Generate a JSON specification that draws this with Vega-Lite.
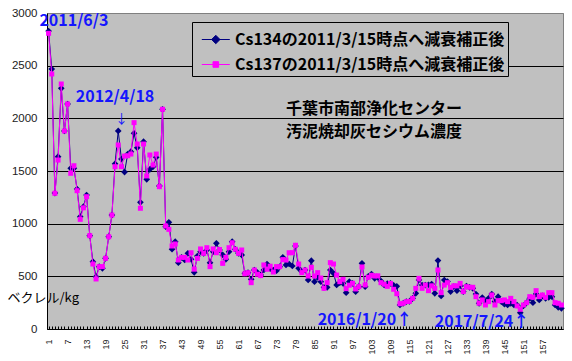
{
"$schema": "https://vega.github.io/schema/vega-lite/v6.json",
"width": 516, "height": 316,
"autosize": {"type": "none"},
"padding": {"left": 47, "top": 13, "right": 9, "bottom": 32},
"background": "white",
"config": {"view": {"fill": "#C0C0C0", "stroke": "#808080", "strokeWidth": 1}, "font": "Liberation Sans"},
"data": {"values": [
{"i":1,"a":2829,"b":2807},{"i":2,"a":2468,"b":2421},{"i":3,"a":1290,"b":1288},{"i":4,"a":1636,"b":1604},{"i":5,"a":2285,"b":2326},
{"i":6,"a":1880,"b":1880},{"i":7,"a":2136,"b":2136},{"i":8,"a":1525,"b":1478},{"i":9,"a":1525,"b":1550},{"i":10,"a":1329,"b":1313},
{"i":11,"a":1066,"b":1041},{"i":12,"a":1161,"b":1150},{"i":13,"a":1272,"b":1256},{"i":14,"a":886,"b":886},{"i":15,"a":639,"b":617},
{"i":16,"a":497,"b":475},{"i":17,"a":592,"b":592},{"i":18,"a":576,"b":592},{"i":19,"a":671,"b":671},{"i":20,"a":876,"b":876},
{"i":21,"a":1082,"b":1082},{"i":22,"a":1569,"b":1541},{"i":23,"a":1880,"b":1747},{"i":24,"a":1614,"b":1541},{"i":25,"a":1490,"b":1642},
{"i":26,"a":1661,"b":1645},{"i":27,"a":1683,"b":1661},{"i":28,"a":1858,"b":1959},{"i":29,"a":1721,"b":1756},{"i":30,"a":1203,"b":1146},
{"i":31,"a":1778,"b":1756},{"i":32,"a":1421,"b":1453},{"i":33,"a":1516,"b":1652},{"i":34,"a":1541,"b":1557},{"i":35,"a":1630,"b":1661},
{"i":36,"a":1358,"b":1351},{"i":37,"a":2086,"b":2086},{"i":38,"a":971,"b":978},{"i":39,"a":1013,"b":946},{"i":40,"a":757,"b":788},
{"i":41,"a":829,"b":807},{"i":42,"a":630,"b":655},{"i":43,"a":680,"b":680},{"i":44,"a":655,"b":680},{"i":45,"a":718,"b":655},
{"i":46,"a":662,"b":724},{"i":47,"a":538,"b":568},{"i":48,"a":693,"b":670},{"i":49,"a":734,"b":760},{"i":50,"a":718,"b":718},
{"i":51,"a":750,"b":772},{"i":52,"a":630,"b":592},{"i":53,"a":734,"b":760},{"i":54,"a":813,"b":724},{"i":55,"a":750,"b":755},
{"i":56,"a":703,"b":623},{"i":57,"a":661,"b":680},{"i":58,"a":734,"b":772},{"i":59,"a":829,"b":819},{"i":60,"a":757,"b":757},
{"i":61,"a":718,"b":718},{"i":62,"a":703,"b":750},{"i":63,"a":529,"b":524},{"i":64,"a":535,"b":535},{"i":65,"a":472,"b":440},
{"i":66,"a":560,"b":560},{"i":67,"a":535,"b":520},{"i":68,"a":513,"b":507},{"i":69,"a":560,"b":608},{"i":70,"a":617,"b":567},
{"i":71,"a":573,"b":596},{"i":72,"a":560,"b":541},{"i":73,"a":554,"b":592},{"i":74,"a":592,"b":592},{"i":75,"a":680,"b":659},
{"i":76,"a":608,"b":655},{"i":77,"a":617,"b":724},{"i":78,"a":598,"b":724},{"i":79,"a":788,"b":795},{"i":80,"a":576,"b":617},
{"i":81,"a":544,"b":535},{"i":82,"a":560,"b":560},{"i":83,"a":465,"b":503},{"i":84,"a":649,"b":586},{"i":85,"a":449,"b":503},
{"i":86,"a":491,"b":535},{"i":87,"a":449,"b":484},{"i":88,"a":396,"b":386},{"i":89,"a":396,"b":440},{"i":90,"a":560,"b":630},
{"i":91,"a":529,"b":617},{"i":92,"a":418,"b":512},{"i":93,"a":440,"b":449},{"i":94,"a":434,"b":472},{"i":95,"a":345,"b":383},
{"i":96,"a":449,"b":416},{"i":97,"a":434,"b":434},{"i":98,"a":354,"b":380},{"i":99,"a":402,"b":402},{"i":100,"a":624,"b":589},
{"i":101,"a":402,"b":418},{"i":102,"a":500,"b":491},{"i":103,"a":522,"b":510},{"i":104,"a":481,"b":503},{"i":105,"a":490,"b":505},
{"i":106,"a":455,"b":440},{"i":107,"a":418,"b":425},{"i":108,"a":430,"b":405},{"i":109,"a":433,"b":433},{"i":110,"a":415,"b":377},
{"i":111,"a":405,"b":335},{"i":112,"a":228,"b":240},{"i":113,"a":244,"b":244},{"i":114,"a":260,"b":260},{"i":115,"a":262,"b":262},
{"i":116,"a":291,"b":291},{"i":117,"a":339,"b":386},{"i":118,"a":465,"b":481},{"i":119,"a":417,"b":386},{"i":120,"a":417,"b":417},
{"i":121,"a":420,"b":364},{"i":122,"a":427,"b":410},{"i":123,"a":339,"b":386},{"i":124,"a":650,"b":560},{"i":125,"a":314,"b":345},
{"i":126,"a":465,"b":417},{"i":127,"a":450,"b":440},{"i":128,"a":355,"b":395},{"i":129,"a":402,"b":410},{"i":130,"a":364,"b":410},
{"i":131,"a":410,"b":433},{"i":132,"a":355,"b":355},{"i":133,"a":408,"b":402},{"i":134,"a":396,"b":396},{"i":135,"a":386,"b":396},
{"i":136,"a":332,"b":307},{"i":137,"a":244,"b":244},{"i":138,"a":298,"b":276},{"i":139,"a":260,"b":228},{"i":140,"a":291,"b":260},
{"i":141,"a":332,"b":323},{"i":142,"a":260,"b":228},{"i":143,"a":307,"b":269},{"i":144,"a":260,"b":269},{"i":145,"a":235,"b":276},
{"i":146,"a":228,"b":260},{"i":147,"a":244,"b":291},{"i":148,"a":228,"b":260},{"i":149,"a":228,"b":219},{"i":150,"a":155,"b":187},
{"i":151,"a":219,"b":228},{"i":152,"a":250,"b":250},{"i":153,"a":291,"b":307},{"i":154,"a":250,"b":301},{"i":155,"a":332,"b":364},
{"i":156,"a":276,"b":307},{"i":157,"a":314,"b":323},{"i":158,"a":291,"b":300},{"i":159,"a":301,"b":345},{"i":160,"a":307,"b":345},
{"i":161,"a":228,"b":250},{"i":162,"a":206,"b":244},{"i":163,"a":196,"b":228}
]},
"encoding": {
  "x": {"field": "i", "type": "ordinal", "title": null,
    "scale": {"type": "point", "padding": 0.5},
    "axis": {"labelExpr": "((datum.value - 1) % 6 == 0 && datum.value < 160) ? datum.label : ''", "labelAngle": 270, "labelOverlap": false,
      "labelFontSize": 9, "labelFont": "Liberation Sans", "labelColor": "#222222", "tickSize": -3, "tickColor": "#000000",
      "labelPadding": 13, "domainColor": "#000000", "grid": false}}
},
"layer": [
  {"mark": {"type": "line", "strokeWidth": 1},
   "encoding": {
     "y": {"field": "a", "type": "quantitative", "title": "ベクレル/kg",
       "scale": {"domain": [0, 3000], "nice": false},
       "axis": {"values": [0,500,1000,1500,2000,2500,3000], "format": "d", "grid": true,
         "gridColor": {"condition": {"test": "datum.value >= 3000", "value": "#808080"}, "value": "#000000"},
         "gridWidth": 1, "ticks": false, "labelPadding": 10, "labelFont": "Liberation Sans", "labelFontSize": 11.5,
         "labelColor": "#222222", "domainColor": "#000000",
         "titleAngle": 0, "titleX": -40, "titleY": 284, "titleAlign": "left", "titleBaseline": "middle",
         "titleFont": "Noto Sans CJK JP", "titleFontSize": 13, "titleFontWeight": "normal", "titleColor": "#000000"}},
     "color": {"datum": "Cs134の2011/3/15時点へ減衰補正後", "type": "nominal",
       "scale": {"domain": ["Cs134の2011/3/15時点へ減衰補正後", "Cs137の2011/3/15時点へ減衰補正後"], "range": ["#000080", "#FF00FF"]},
       "legend": {"orient": "none", "legendX": 145, "legendY": 9, "title": null, "fillColor": "#C0C0C0", "strokeColor": "#000000",
         "padding": 3, "rowPadding": 2, "symbolSize": 784, "labelFont": "Noto Sans CJK JP", "labelFontSize": 16,
         "labelFontWeight": "bold", "labelColor": "#000000", "labelOffset": 11, "labelLimit": 400, "symbolStrokeWidth": 1,
         "encode": {"symbols": {"update": {
           "shape": {"signal": "datum.index == 0 ? 'M-0.55,0H1.45M0.45,-0.3L0.75,0L0.45,0.3L0.15,0Z' : 'M-0.55,0H1.45M0.25,-0.2H0.65V0.2H0.25Z'"},
           "fill": {"signal": "datum.index == 0 ? '#000080' : '#FF00FF'"},
           "stroke": {"signal": "datum.index == 0 ? '#000080' : '#FF00FF'"},
           "opacity": {"value": 1}, "strokeWidth": {"value": 1}}}}}}
   }},
  {"mark": {"type": "point", "filled": true, "shape": "diamond", "size": 45, "opacity": 1},
   "encoding": {"y": {"field": "a", "type": "quantitative", "title": "ベクレル/kg"},
     "color": {"datum": "Cs134の2011/3/15時点へ減衰補正後", "type": "nominal"}}},
  {"mark": {"type": "line", "strokeWidth": 1},
   "encoding": {"y": {"field": "b", "type": "quantitative", "title": "ベクレル/kg"},
     "color": {"datum": "Cs137の2011/3/15時点へ減衰補正後", "type": "nominal"}}},
  {"mark": {"type": "point", "filled": true, "shape": "square", "size": 25, "opacity": 1},
   "encoding": {"y": {"field": "b", "type": "quantitative", "title": "ベクレル/kg"},
     "color": {"datum": "Cs137の2011/3/15時点へ減衰補正後", "type": "nominal"}}},
  {"data": {"values": [{"i": 9, "v": 2924, "t": "2011/6/3"}, {"i": 22, "v": 2200, "t": "2012/4/18"}]},
   "mark": {"type": "text", "font": "Noto Sans CJK JP", "fontWeight": "bold", "fontSize": 16, "fill": "#1515FF", "align": "center", "baseline": "middle"},
   "encoding": {"y": {"field": "v", "type": "quantitative", "title": "ベクレル/kg"}, "text": {"field": "t"}}},
  {"data": {"values": [{"i": 24, "v": 1995, "t": "↓"}]},
   "mark": {"type": "text", "font": "Noto Sans CJK JP", "fontSize": 13, "fill": "#1515FF", "align": "center", "baseline": "middle"},
   "encoding": {"y": {"field": "v", "type": "quantitative", "title": "ベクレル/kg"}, "text": {"field": "t"}}},
  {"data": {"values": [{"i": 86, "v": 85, "t": "2016/1/20↑"}, {"i": 123, "v": 69, "t": "2017/7/24↑"}]},
   "mark": {"type": "text", "font": "Noto Sans CJK JP", "fontWeight": "bold", "fontSize": 16, "fill": "#1515FF", "align": "left", "baseline": "middle"},
   "encoding": {"y": {"field": "v", "type": "quantitative", "title": "ベクレル/kg"}, "text": {"field": "t"}}},
  {"data": {"values": [{"i": 76, "v": 2093, "t": "千葉市南部浄化センター"}, {"i": 76, "v": 1875, "t": "汚泥焼却灰セシウム濃度"}]},
   "mark": {"type": "text", "font": "Noto Sans CJK JP", "fontWeight": "bold", "fontSize": 16, "fill": "#000000", "align": "left", "baseline": "middle"},
   "encoding": {"y": {"field": "v", "type": "quantitative", "title": "ベクレル/kg"}, "text": {"field": "t"}}}
]
}
